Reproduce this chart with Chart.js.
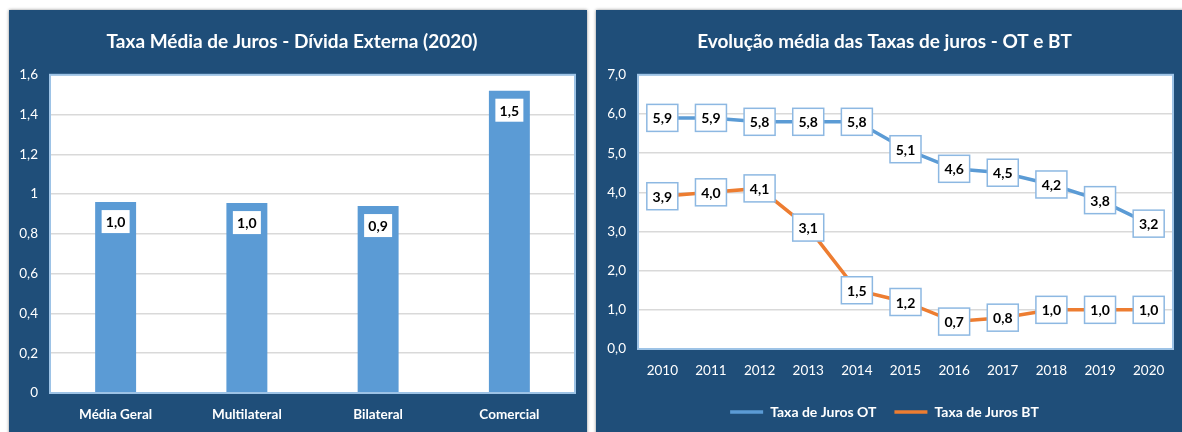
<!DOCTYPE html>
<html>
<head>
<meta charset="utf-8">
<script src="https://cdn.jsdelivr.net/npm/chart.js@4.4.1/dist/chart.umd.min.js"></script>
<style>
  body { margin: 0; background: #fff; width: 1182px; height: 432px; overflow: hidden; position: relative; }
  .panel { position: absolute; background: #1F4E79; box-shadow: 0 0 3px rgba(0,0,0,0.45); }
  #p1 { left: 9px; top: 10px; width: 578px; height: 430px; }
  #p2 { left: 596px; top: 10px; width: 590px; height: 430px; }
  canvas { display: block; }
</style>
</head>
<body>
<div class="panel" id="p1"><canvas id="barChart" width="578" height="422"></canvas></div>
<div class="panel" id="p2"><canvas id="lineChart" width="586" height="422"></canvas></div>
<script>
// Left chart data
var barTitle = "Taxa Média de Juros - Dívida Externa (2020)";
var barCategories = ["Média Geral", "Multilateral", "Bilateral", "Comercial"];
var barValues = [0.96, 0.955, 0.94, 1.52];

// Right chart data
var lineTitle = "Evolução média das Taxas de juros - OT e BT";
var years = ["2010", "2011", "2012", "2013", "2014", "2015", "2016", "2017", "2018", "2019", "2020"];
var otLabel = "Taxa de Juros OT";
var otValues = [5.9, 5.9, 5.8, 5.8, 5.8, 5.1, 4.6, 4.5, 4.2, 3.8, 3.2];
var btLabel = "Taxa de Juros BT";
var btValues = [3.9, 4.0, 4.1, 3.1, 1.5, 1.2, 0.7, 0.8, 1.0, 1.0, 1.0];

var FONT = "Lato, 'Open Sans', sans-serif";

// one decimal, comma separator
function fmt1(v) {
    return (Math.round(v * 10) / 10).toFixed(1).replace(".", ",");
}

// white plot area with a light blue frame
var plotFrame = {
    id: "plotFrame",
    beforeDraw: function(chart) {
        var a = chart.chartArea, c = chart.ctx;
        c.save();
        c.fillStyle = "#ffffff";
        c.fillRect(a.left, a.top, a.right - a.left, a.bottom - a.top);
        c.restore();
    },
    afterDatasetsDraw: function(chart) {
        var a = chart.chartArea, c = chart.ctx;
        c.save();
        c.strokeStyle = "#9DC3E6";
        c.lineWidth = 2;
        c.strokeRect(a.left, a.top, a.right - a.left, a.bottom - a.top);
        c.restore();
    }
};

// value labels in white boxes
var valueBoxes = {
    id: "valueBoxes",
    afterDatasetsDraw: function(chart, args, opts) {
        var c = chart.ctx;
        c.save();
        chart.data.datasets.forEach(function(ds, i) {
            var meta = chart.getDatasetMeta(i);
            meta.data.forEach(function(el, j) {
                var x = el.x;
                var y = opts.inside ? el.y + opts.offset + opts.h / 2 : el.y;
                c.fillStyle = "#ffffff";
                c.fillRect(x - opts.w / 2, y - opts.h / 2, opts.w, opts.h);
                if (opts.border) {
                    c.strokeStyle = opts.border;
                    c.lineWidth = 1.5;
                    c.strokeRect(x - opts.w / 2, y - opts.h / 2, opts.w, opts.h);
                }
                c.fillStyle = "#000000";
                c.font = "bold 14px " + FONT;
                c.textAlign = "center";
                c.textBaseline = "middle";
                c.fillText(fmt1(ds.data[j]), x, y + 1);
            });
        });
        c.restore();
    }
};

new Chart(document.getElementById("barChart"), {
    type: "bar",
    data: {
        labels: barCategories,
        datasets: [{
            data: barValues,
            backgroundColor: "#5B9BD5",
            borderWidth: 0,
            categoryPercentage: 1,
            barPercentage: 0.312
        }]
    },
    plugins: [plotFrame, valueBoxes],
    options: {
        responsive: false,
        animation: false,
        layout: { padding: { left: 0, right: 12, top: 0, bottom: 0 } },
        plugins: {
            legend: { display: false },
            tooltip: { enabled: false },
            title: {
                display: true,
                text: barTitle,
                color: "#ffffff",
                font: { family: FONT, size: 19, weight: "bold" },
                padding: { top: 20, bottom: 22 }
            },
            valueBoxes: { inside: true, offset: 8, w: 28, h: 23 }
        },
        scales: {
            x: {
                grid: { display: false, drawTicks: false },
                border: { display: false },
                ticks: { color: "#ffffff", padding: 14, font: { family: FONT, size: 13.5, weight: "bold" } },
                afterFit: function(s) { s.height = 39; }
            },
            y: {
                min: 0,
                max: 1.6,
                grid: { color: "#D9D9D9", lineWidth: 1.5, drawTicks: false },
                border: { display: false },
                ticks: {
                    stepSize: 0.2,
                    color: "#ffffff",
                    padding: 12,
                    font: { family: FONT, size: 13.5 },
                    callback: function(v) { return String(+v.toFixed(1)).replace(".", ","); }
                },
                afterFit: function(s) { s.width = 41; }
            }
        }
    }
});

new Chart(document.getElementById("lineChart"), {
    type: "line",
    data: {
        labels: years,
        datasets: [{
            label: otLabel,
            data: otValues,
            borderColor: "#5B9BD5",
            backgroundColor: "#5B9BD5",
            borderWidth: 3.5,
            pointRadius: 0,
            pointStyle: "line",
            tension: 0
        }, {
            label: btLabel,
            data: btValues,
            borderColor: "#ED7D31",
            backgroundColor: "#ED7D31",
            borderWidth: 3.5,
            pointRadius: 0,
            pointStyle: "line",
            tension: 0
        }]
    },
    plugins: [plotFrame, valueBoxes],
    options: {
        responsive: false,
        animation: false,
        layout: { padding: { left: 0, right: 9, top: 0, bottom: 3 } },
        plugins: {
            tooltip: { enabled: false },
            title: {
                display: true,
                text: lineTitle,
                color: "#ffffff",
                font: { family: FONT, size: 19, weight: "bold" },
                padding: { top: 20, bottom: 22 }
            },
            legend: {
                position: "bottom",
                labels: {
                    color: "#ffffff",
                    usePointStyle: true,
                    pointStyleWidth: 33,
                    padding: 18,
                    font: { family: FONT, size: 14, weight: "bold" }
                }
            },
            valueBoxes: { inside: false, w: 31, h: 27, border: "#8DB8E2" }
        },
        scales: {
            x: {
                offset: true,
                grid: { display: false, drawTicks: false },
                border: { display: false },
                ticks: { color: "#ffffff", padding: 14, font: { family: FONT, size: 13.5 } },
                afterFit: function(s) { s.height = 38; }
            },
            y: {
                min: 0,
                max: 7,
                grid: { color: "#D9D9D9", lineWidth: 1.5, drawTicks: false },
                border: { display: false },
                ticks: {
                    stepSize: 1,
                    color: "#ffffff",
                    padding: 12,
                    font: { family: FONT, size: 13.5 },
                    callback: function(v) { return v.toFixed(1).replace(".", ","); }
                },
                afterFit: function(s) { s.width = 42; }
            }
        }
    }
});
</script>
</body>
</html>
